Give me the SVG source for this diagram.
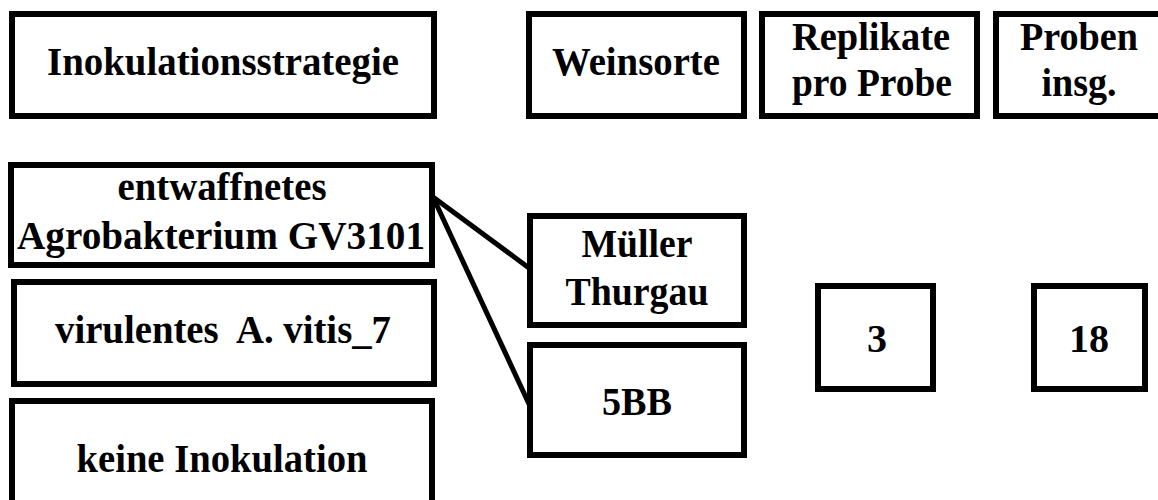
<svg xmlns="http://www.w3.org/2000/svg" width="1158" height="500" viewBox="0 0 1158 500">
<style>
.box{fill:#fff;stroke:#000;stroke-width:6}
.t{font-family:'Liberation Serif','Times New Roman',Tinos,'DejaVu Serif',serif;font-weight:700;font-size:40px;fill:#000;text-anchor:middle}
.c{stroke:#000;stroke-width:5;fill:none}
</style>
<rect width="1158" height="500" fill="#fff"/>
<g id="connectors">
<line class="c" x1="433" y1="197" x2="529" y2="268"/>
<line class="c" x1="433" y1="197" x2="529" y2="404"/>
</g>
<g id="inokulationsstrategie"><rect class="box" x="12" y="14" width="422" height="102"/><text class="t" x="223" y="75" textLength="352" lengthAdjust="spacingAndGlyphs">Inokulationsstrategie</text></g>
<g id="weinsorte"><rect class="box" x="529" y="14" width="215" height="102"/><text class="t" x="636" y="75" textLength="168" lengthAdjust="spacingAndGlyphs">Weinsorte</text></g>
<g id="replikate"><rect class="box" x="762" y="14" width="215" height="102"/><text class="t" x="871" y="50" textLength="158" lengthAdjust="spacingAndGlyphs">Replikate</text><text class="t" x="872" y="96" textLength="160" lengthAdjust="spacingAndGlyphs">pro Probe</text></g>
<g id="proben"><rect class="box" x="996" y="14" width="166" height="102"/><text class="t" x="1079" y="50" textLength="118" lengthAdjust="spacingAndGlyphs">Proben</text><text class="t" x="1079" y="96" textLength="75" lengthAdjust="spacingAndGlyphs">insg.</text></g>
<g id="entwaffnetes"><rect class="box" x="11" y="165" width="421" height="100"/><text class="t" x="222" y="200" textLength="209" lengthAdjust="spacingAndGlyphs">entwaffnetes</text><text class="t" x="221" y="249" textLength="408" lengthAdjust="spacingAndGlyphs">Agrobakterium GV3101</text></g>
<g id="virulentes"><rect class="box" x="14" y="282" width="420" height="102"/><text class="t" x="223" y="343" xml:space="preserve" textLength="336" lengthAdjust="spacingAndGlyphs">virulentes  A. vitis_7</text></g>
<g id="keine"><rect class="box" x="12" y="401" width="420" height="110"/><text class="t" x="222" y="472" textLength="291" lengthAdjust="spacingAndGlyphs">keine Inokulation</text></g>
<g id="mueller"><rect class="box" x="530" y="216" width="214" height="109"/><text class="t" x="637" y="257" textLength="111" lengthAdjust="spacingAndGlyphs">Müller</text><text class="t" x="637" y="305" textLength="143" lengthAdjust="spacingAndGlyphs">Thurgau</text></g>
<g id="bb5"><rect class="box" x="530" y="345" width="214" height="110"/><text class="t" x="637" y="415" textLength="70" lengthAdjust="spacingAndGlyphs">5BB</text></g>
<g id="n3"><rect class="box" x="818" y="286" width="115" height="103"/><text class="t" x="877" y="352">3</text></g>
<g id="n18"><rect class="box" x="1034" y="286" width="111" height="103"/><text class="t" x="1089" y="352">18</text></g>
</svg>
